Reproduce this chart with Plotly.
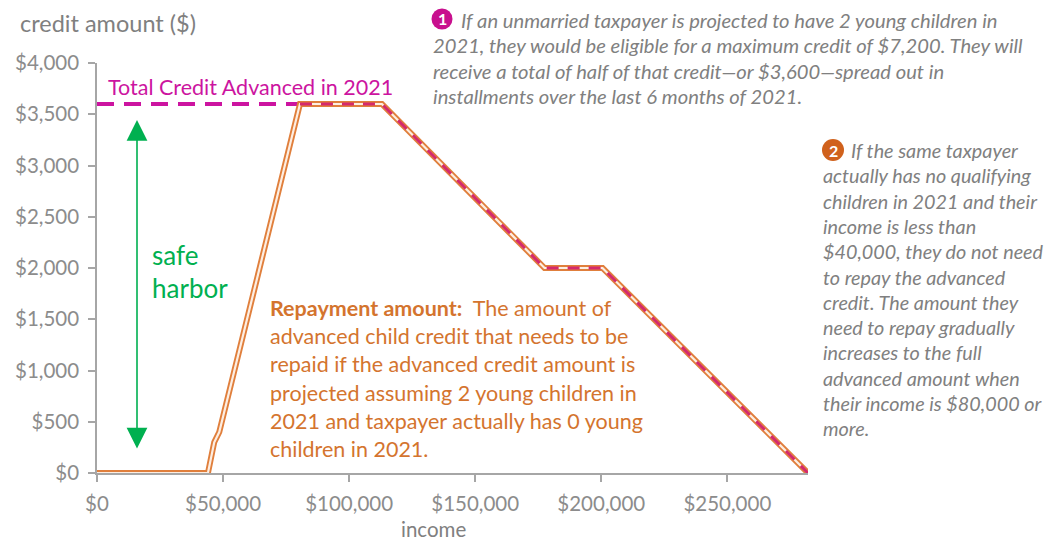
import plotly.graph_objects as go

# ---- data ----
income_repay = [0, 44000, 46500, 48500, 71500, 72500, 80500, 113000, 177500, 200500, 282000]
repay_amount = [0, 0, 300, 400, 2700, 2800, 3600, 3600, 2000, 2000, 0]

income_adv = [0, 113000, 177500, 200500, 282000]
adv_amount = [3600, 3600, 2000, 2000, 0]

x_ticks = [0, 50000, 100000, 150000, 200000, 250000]
y_ticks = [0, 500, 1000, 1500, 2000, 2500, 3000, 3500, 4000]
x_ticktext = ["${:,}".format(v) for v in x_ticks]
y_ticktext = ["${:,}".format(v) for v in y_ticks]

# ---- layout geometry (pixels) ----
W, H = 1046, 542
L, R, T, B = 97, 808, 63, 473
def px(x):
    return (x - L) / (R - L)
def py(y):
    return (B - y) / (B - T)

FONT = "Lato"
GRAY = "#808080"
ORANGE = "#d4742e"
MAGENTA = "#cc14a0"
CRIMSON = "#d42a6c"
GREEN = "#00b050"

fig = go.Figure()
fig.add_trace(go.Scatter(x=income_adv, y=adv_amount, mode="lines",
                         line=dict(color=MAGENTA, width=4, dash="17px,10px"),
                         hoverinfo="skip"))
fig.add_trace(go.Scatter(x=income_repay, y=repay_amount, mode="lines",
                         line=dict(color="#e07f3c", width=6), hoverinfo="skip"))
fig.add_trace(go.Scatter(x=income_repay, y=repay_amount, mode="lines",
                         line=dict(color="#fdeee2", width=2.2), hoverinfo="skip"))
top_idx = repay_amount.index(max(repay_amount))
fig.add_trace(go.Scatter(x=income_repay[top_idx:], y=repay_amount[top_idx:], mode="lines",
                         line=dict(color=CRIMSON, width=3, dash="12px,9px"),
                         hoverinfo="skip"))

ann = []
def text(x, y, s, size, color, xanchor="left", italic=False, bold=False):
    ann.append(dict(xref="paper", yref="paper", x=px(x), y=py(y), text=s,
                    showarrow=False, xanchor=xanchor, yanchor="middle",
                    font=dict(family=FONT, size=size, color=color,
                              style="italic" if italic else "normal",
                              weight="bold" if bold else "normal")))

text(18, 23, "credit amount ($)", 23.5, GRAY)
text(433, 529, "income", 20.5, GRAY, xanchor="center")
text(106, 87, "Total Credit Advanced in 2021", 21.5, MAGENTA)
text(150, 255, "safe", 26, GREEN)
text(150, 288, "harbor", 26, GREEN)

rep_lines = ["<b>Repayment amount:</b>  The amount of",
             "advanced child credit that needs to be",
             "repaid if the advanced credit amount is",
             "projected assuming 2 young children in",
             "2021 and taxpayer actually has 0 young",
             "children in 2021."]
for i, s in enumerate(rep_lines):
    text(268, 308 + i * 28.2, s, 21.5, ORANGE)

n1 = ["If an unmarried taxpayer is projected to have 2 young children in",
      "2021, they would be eligible for a maximum credit of $7,200. They will",
      "receive a total of half of that credit\u2014or $3,600\u2014spread out in",
      "installments over the last 6 months of 2021."]
for i, s in enumerate(n1):
    text(459 if i == 0 else 431, 20 + i * 25.3, s, 20.2, GRAY, italic=True)

n2 = ["If the same taxpayer", "actually has no qualifying", "children in 2021 and their",
      "income is less than", "$40,000, they do not need", "to repay the advanced",
      "credit. The amount they", "need to repay gradually", "increases to the full",
      "advanced amount when", "their income is $80,000 or", "more."]
for i, s in enumerate(n2):
    text(849 if i == 0 else 821, 150 + i * 25.3, s, 19.8, GRAY, italic=True)

# numbered circles
shapes = []
for cx, cy, r, col, num in [(442, 19, 10.5, "#c8108e", "1"), (833, 150, 11, "#d0611c", "2")]:
    shapes.append(dict(type="circle", xref="paper", yref="paper",
                       x0=px(cx - r), x1=px(cx + r), y0=py(cy + r), y1=py(cy - r),
                       fillcolor=col, line=dict(width=0), layer="above"))
    ann.append(dict(xref="paper", yref="paper", x=px(cx), y=py(cy), text="<b>%s</b>" % num,
                    showarrow=False, xanchor="center", yanchor="middle",
                    font=dict(family=FONT, size=16, color="white")))

# safe harbor double arrow
ann.append(dict(xref="paper", yref="paper", axref="pixel", ayref="pixel",
                x=px(137), y=py(120), ax=0, ay=(450 - 120), text="",
                showarrow=True, arrowhead=2, arrowsize=2.6, arrowwidth=1.6,
                arrowside="end+start", startarrowhead=2, startarrowsize=2.6,
                arrowcolor=GREEN))

axis_common = dict(showgrid=False, zeroline=False, showline=True, linecolor="#a6a6a6",
                   linewidth=1.5, ticks="outside", ticklen=7, tickcolor="#a6a6a6",
                   tickwidth=1.5, tickfont=dict(family=FONT, size=20.5, color="#8c8c8c"),
                   ticklabelstandoff=5, fixedrange=True)

fig.update_layout(
    width=W, height=H,
    margin=dict(l=L, r=W - R, t=T, b=H - B, autoexpand=False),
    paper_bgcolor="white", plot_bgcolor="white",
    showlegend=False,
    annotations=ann, shapes=shapes,
    font=dict(family=FONT, color=GRAY),
    xaxis=dict(range=[0, 282000], tickvals=x_ticks, ticktext=x_ticktext, **axis_common),
    yaxis=dict(range=[0, 4000], tickvals=y_ticks, ticktext=y_ticktext, **axis_common),
)

fig.write_html("out.html", config={"displayModeBar": False},
               post_script="document.body.style.margin='0';")
